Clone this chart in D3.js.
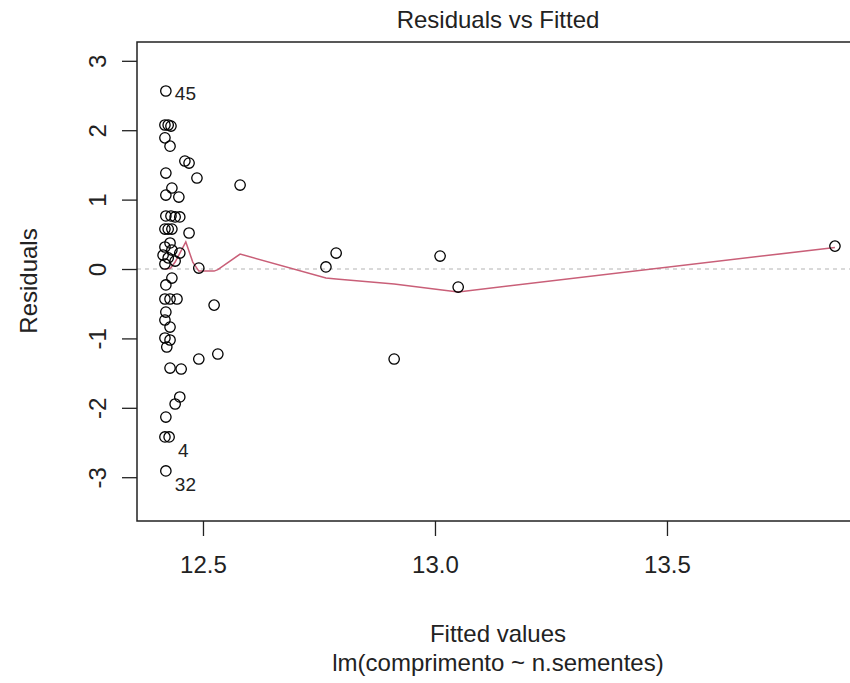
<!DOCTYPE html>
<html>
<head>
<meta charset="utf-8">
<script src="https://cdn.jsdelivr.net/npm/d3@7"></script>
<style>
  html, body { margin: 0; padding: 0; background: #fff; }
  svg { display: block; font-family: "Liberation Sans", Arial, sans-serif; }
</style>
</head>
<body>
<svg id="chart" width="850" height="683"></svg>
<script>
// fitted values and residuals
const fitted = [
  12.420, 12.418, 12.425, 12.431, 12.418, 12.429, 12.461, 12.470, 12.420, 12.487,
  12.580, 12.433, 12.420, 12.448, 12.420, 12.431, 12.440, 12.450, 12.418, 12.425,
  12.433, 12.470, 12.429, 12.418, 12.433, 12.450, 12.414, 12.425, 12.440, 12.418,
  12.491, 12.433, 12.420, 12.418, 12.429, 12.444, 12.524, 12.420, 12.418, 12.429,
  12.418, 12.429, 12.422, 12.491, 12.532, 12.429, 12.453, 12.450, 12.440, 12.420,
  12.418, 12.427, 12.420,
  12.765, 12.787, 12.912, 13.011, 13.050, 13.862
];
const resid = [
  2.565, 2.075, 2.075, 2.060, 1.890, 1.770, 1.556, 1.527, 1.383, 1.311,
  1.210, 1.167, 1.066, 1.037, 0.764, 0.764, 0.750, 0.750, 0.576, 0.576,
  0.576, 0.519, 0.375, 0.317, 0.274, 0.230, 0.200, 0.160, 0.115, 0.072,
  0.014, -0.130, -0.230, -0.432, -0.432, -0.432, -0.520, -0.620, -0.735, -0.836,
  -0.994, -1.023, -1.124, -1.297, -1.225, -1.427, -1.441, -1.844, -1.945, -2.133,
  -2.420, -2.420, -2.910,
  0.030, 0.230, -1.297, 0.187, -0.260, 0.330
];

// observation ids shown next to the largest residuals
const idIndex = [0, 51, 52];
const idText = ["45", "4", "32"];

// lowess smoother through the points
const smoothX = [12.418, 12.430, 12.440, 12.463, 12.478, 12.491, 12.524, 12.532, 12.580,
  12.765, 12.787, 12.912, 13.011, 13.050, 13.862];
const smoothY = [0.000, 0.010, 0.100, 0.390, 0.100, -0.030, -0.030, -0.010, 0.216,
  -0.130, -0.145, -0.216, -0.300, -0.330, 0.310];

const xTicks = [12.5, 13.0, 13.5];
const yTicks = [-3, -2, -1, 0, 1, 2, 3];

const svg = d3.select("#chart");
const plot = { left: 137, top: 42, bottom: 521, right: 871 };

const x = d3.scaleLinear().domain([12.3578, 13.9397]).range([plot.left, plot.right]);
const y = d3.scaleLinear().domain([-3.631, 3.271]).range([plot.bottom, plot.top]);

svg.append("rect").attr("width", 850).attr("height", 683).attr("fill", "#fff");

// zero reference
svg.append("line")
  .attr("x1", plot.left).attr("x2", plot.right)
  .attr("y1", y(0)).attr("y2", y(0))
  .attr("stroke", "#b3b3b3")
  .attr("stroke-width", 1.2)
  .attr("stroke-dasharray", "4 4");

// smoother
const smooth = smoothX.map((d, i) => [d, smoothY[i]]);
svg.append("path")
  .datum(smooth)
  .attr("fill", "none")
  .attr("stroke", "#c95f78")
  .attr("stroke-width", 1.5)
  .attr("d", d3.line().x(d => x(d[0])).y(d => y(d[1])));

// points
svg.append("g")
  .selectAll("circle")
  .data(fitted.map((d, i) => [d, resid[i]]))
  .join("circle")
  .attr("cx", d => x(d[0]))
  .attr("cy", d => y(d[1]))
  .attr("r", 5.2)
  .attr("fill", "none")
  .attr("stroke", "#000")
  .attr("stroke-width", 1.3);

// id labels
svg.append("g")
  .selectAll("text")
  .data(idIndex)
  .join("text")
  .attr("x", i => x(fitted[i]) + 9)
  .attr("y", i => y(resid[i]) + (resid[i] < 0 ? 13 : 2))
  .attr("dy", "0.35em")
  .attr("font-size", 19)
  .attr("fill", "#222")
  .text((i, k) => idText[k]);

// box
svg.append("rect")
  .attr("x", plot.left).attr("y", plot.top)
  .attr("width", plot.right - plot.left)
  .attr("height", plot.bottom - plot.top)
  .attr("fill", "none")
  .attr("stroke", "#222")
  .attr("stroke-width", 1.5);

// axes
const xAxis = svg.append("g")
  .attr("transform", `translate(0,${plot.bottom})`)
  .call(d3.axisBottom(x).tickValues(xTicks).tickFormat(d3.format(".1f")).tickSize(15).tickPadding(20));
xAxis.select(".domain").remove();
xAxis.selectAll("line").attr("stroke", "#222").attr("stroke-width", 1.3);
xAxis.selectAll("text").attr("font-size", 24).attr("fill", "#222")
  .attr("font-family", "Liberation Sans, Arial, sans-serif");

const yAxis = svg.append("g")
  .attr("transform", `translate(${plot.left},0)`)
  .call(d3.axisLeft(y).tickValues(yTicks).tickFormat(d => String(d)).tickSize(15));
yAxis.select(".domain").remove();
yAxis.selectAll("line").attr("stroke", "#222").attr("stroke-width", 1.3);
yAxis.selectAll("text")
  .attr("transform", "rotate(-90)")
  .attr("x", 0).attr("y", -31).attr("dy", 0)
  .attr("text-anchor", "middle")
  .attr("font-size", 24).attr("fill", "#222")
  .attr("font-family", "Liberation Sans, Arial, sans-serif");

// titles
svg.append("text")
  .attr("x", 498).attr("y", 28)
  .attr("text-anchor", "middle")
  .attr("font-size", 24).attr("fill", "#222")
  .text("Residuals vs Fitted");

svg.append("text")
  .attr("x", 498).attr("y", 642)
  .attr("text-anchor", "middle")
  .attr("font-size", 24).attr("fill", "#222")
  .text("Fitted values");

svg.append("text")
  .attr("x", 498).attr("y", 671)
  .attr("text-anchor", "middle")
  .attr("font-size", 24).attr("fill", "#222")
  .text("lm(comprimento ~ n.sementes)");

svg.append("text")
  .attr("transform", "translate(37,281) rotate(-90)")
  .attr("text-anchor", "middle")
  .attr("font-size", 24).attr("fill", "#222")
  .text("Residuals");
</script>
</body>
</html>
